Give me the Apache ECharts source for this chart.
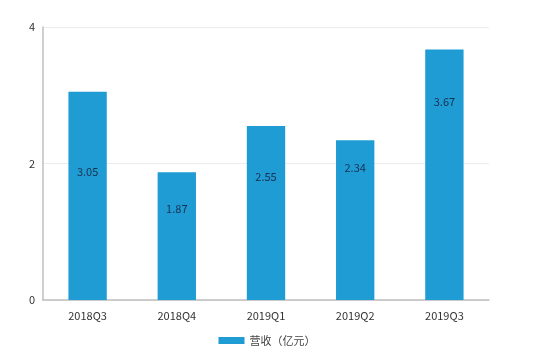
<!DOCTYPE html>
<html><head><meta charset="utf-8">
<script src="https://cdn.jsdelivr.net/npm/echarts@6/dist/echarts.min.js"></script>
<style>html,body{margin:0;padding:0;background:#fff}#c{width:534px;height:354px}</style>
</head><body><div id="c"></div>
<script>
const categories = ['2018Q3','2018Q4','2019Q1','2019Q2','2019Q3'];
const revenue = [3.05, 1.87, 2.55, 2.34, 3.67];
const seriesName = '营收（亿元）';
const yTicks = [0, 2, 4];

// label placement (styling only): vertical shift from bar centre, px
const labelDy = [-24, -27, -36, -52, -73];

const chart = echarts.init(document.getElementById('c'));
chart.setOption({
  animation: false,
  textStyle: {fontFamily: '"Noto Sans CJK SC", "Liberation Sans", sans-serif'},
  grid: {left: 43, right: 45, top: 27, bottom: 54, containLabel: false},
  legend: {
    bottom: 3, left: 'center', itemWidth: 26, itemHeight: 7, itemGap: 3,
    icon: 'rect',
    textStyle: {fontSize: 11, color: '#444'},
    data: [seriesName]
  },
  xAxis: {
    type: 'category', data: categories,
    axisLine: {lineStyle: {color: '#bfbfbf', width: 1.5}},
    axisTick: {show: false},
    axisLabel: {color: '#333', fontSize: 11, margin: 10}
  },
  yAxis: {
    type: 'value', min: yTicks[0], max: yTicks[yTicks.length-1], interval: 2,
    axisLine: {show: true, lineStyle: {color: '#bfbfbf', width: 1.5}},
    axisTick: {show: false},
    splitLine: {lineStyle: {color: '#ececec'}},
    axisLabel: {color: '#333', fontSize: 11, margin: 8}
  },
  series: [{
    name: seriesName, type: 'bar', barWidth: '43%',
    data: revenue.map((v, i) => ({value: v, label: {offset: [0, labelDy[i]]}})),
    itemStyle: {color: '#1f9cd4'},
    label: {show: true, position: 'inside', color: '#1a3050', fontSize: 11}
  }]
});
</script></body></html>
